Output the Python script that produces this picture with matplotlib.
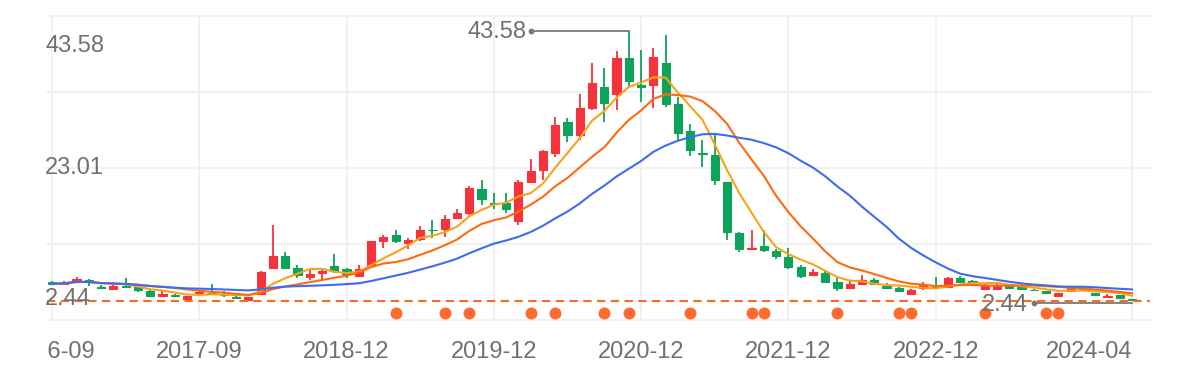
import numpy as np
import pandas as pd
import matplotlib
matplotlib.use("Agg")
import matplotlib.pyplot as plt
import matplotlib.transforms as mtransforms
from matplotlib.transforms import Bbox, TransformedBbox

plt.rcParams['font.family'] = ['Liberation Sans', 'DejaVu Sans']

# ---------------- data ----------------
skipped_months = ['2018-01', '2018-02', '2018-03']
months = [p.strftime('%Y-%m') for p in pd.period_range('2016-09', '2024-04', freq='M')
          if p.strftime('%Y-%m') not in skipped_months]

open_ = [5.30, 5.00, 5.26, 5.57, 4.55, 4.25, 4.70, 4.50, 3.95, 3.15,
         3.30, 2.70, 3.55, 3.65, 3.30, 2.95, 2.50, 3.43, 7.40, 9.23,
         7.50, 6.10, 6.60, 7.70, 7.20, 6.18, 7.70, 11.55, 12.50, 11.25,
         11.80, 13.30, 13.34, 15.02, 15.78, 19.45, 17.40, 17.31, 14.56, 20.51,
         22.34, 24.93, 29.66, 27.68, 31.80, 34.99, 33.93, 39.42, 35.30, 35.30,
         38.66, 32.41, 28.29, 25.00, 24.63, 20.51, 12.73, 10.35, 10.75, 9.99,
         9.07, 7.55, 6.33, 6.63, 5.26, 4.35, 4.96, 5.57, 4.65, 4.35,
         3.43, 4.35, 4.65, 4.50, 5.87, 5.41, 4.19, 4.19, 4.65, 4.50,
         4.10, 3.89, 3.13, 3.89, 4.40, 3.58, 2.97, 3.28, 2.67]
close = [5.00, 5.20, 5.72, 5.26, 4.45, 4.75, 4.55, 4.05, 3.15, 3.40,
         3.20, 3.10, 3.75, 3.55, 3.25, 2.85, 2.95, 6.79, 9.23, 7.50,
         6.33, 6.50, 7.00, 6.98, 6.48, 7.35, 11.51, 12.17, 11.55, 11.67,
         13.19, 13.15, 14.87, 15.78, 19.60, 17.92, 17.25, 16.39, 20.51, 22.19,
         25.24, 29.20, 27.68, 31.80, 35.60, 32.56, 39.42, 35.91, 35.10, 39.57,
         32.41, 27.98, 25.39, 24.85, 20.82, 12.89, 10.29, 10.50, 10.14, 9.23,
         7.55, 6.18, 6.79, 5.26, 4.35, 4.96, 5.57, 4.96, 4.35, 3.89,
         4.04, 4.80, 4.50, 5.87, 5.26, 5.11, 4.80, 4.80, 4.35, 4.19,
         4.00, 3.58, 3.58, 4.50, 4.30, 3.28, 3.13, 2.82, 2.50]
low = [4.90, 4.90, 5.10, 4.65, 4.20, 4.20, 4.35, 3.75, 3.10, 2.95,
       3.05, 2.65, 3.50, 3.45, 3.00, 2.75, 2.47, 3.30, 7.25, 7.35,
       5.85, 5.57, 5.57, 6.70, 5.85, 6.10, 7.60, 10.50, 11.25, 10.40,
       11.50, 11.97, 12.12, 14.87, 15.48, 17.00, 16.39, 15.78, 13.95, 20.36,
       20.82, 24.32, 26.61, 26.92, 31.49, 29.66, 31.49, 34.99, 32.71, 31.80,
       31.95, 26.92, 24.48, 22.80, 20.06, 11.67, 9.84, 10.14, 9.90, 8.75,
       7.25, 5.87, 6.18, 5.11, 3.89, 4.19, 4.80, 4.80, 4.19, 3.75,
       3.30, 4.04, 4.35, 4.35, 5.10, 5.00, 4.10, 4.10, 4.20, 4.05,
       3.90, 3.50, 3.05, 3.80, 4.20, 3.20, 2.85, 2.75, 2.44]
high = [5.50, 5.40, 6.05, 5.70, 4.80, 4.80, 5.90, 4.60, 4.00, 3.85,
        3.50, 3.15, 3.90, 4.95, 3.95, 3.10, 3.00, 6.90, 13.95, 9.90,
        7.85, 7.09, 7.35, 9.53, 7.50, 7.85, 11.60, 12.43, 13.19, 12.08,
        13.80, 14.72, 15.48, 16.39, 19.90, 20.82, 18.83, 18.83, 20.82, 24.02,
        25.40, 30.42, 30.27, 33.93, 38.66, 37.89, 40.49, 43.58, 40.64, 40.95,
        42.93, 33.47, 29.35, 26.92, 27.68, 20.60, 12.90, 13.19, 13.19, 10.40,
        10.45, 7.85, 7.25, 6.94, 6.02, 5.41, 6.33, 5.87, 5.11, 4.50,
        4.20, 5.26, 6.02, 6.02, 6.18, 5.60, 4.95, 5.10, 4.80, 4.60,
        4.30, 3.95, 3.65, 4.65, 4.70, 3.65, 3.40, 3.35, 2.75]

ma_windows = [5, 10, 20]
ma_colors = ['#F8A31B', '#FF6A10', '#3E6CF0']

tick_idx = [0, 12, 24, 36, 48, 60, 72, 88]
signal_idx = [28, 32, 34, 39, 41, 45, 47, 52, 57, 58, 64, 69, 70, 76, 81, 82]

UP = '#F5333C'
DOWN = '#0DA35A'
GRID = '#EFEFEF'
TXT = '#707070'

# ---------------- figure ----------------
W, H = 1200, 373
fig = plt.figure(figsize=(W / 100, H / 100), dpi=100)
ax_l, ax_r, ax_t, ax_b = 47, 1150, 15.7, 320
ax = fig.add_axes([ax_l / W, 1 - ax_b / H, (ax_r - ax_l) / W, (ax_b - ax_t) / H])

n = len(close)
x = np.arange(n)
o = np.array(open_); c = np.array(close); lo = np.array(low); hi = np.array(high)
vmax, vmin = hi.max(), lo.min()
imax, imin = int(hi.argmax()), int(lo.argmin())

# y range: max at pixel 31, min at pixel 300.7
px = (vmax - vmin) / (300.7 - 31)
y0 = vmin - (ax_b - 300.7) * px
y1 = vmax + (31 - ax_t) * px
ax.set_ylim(y0, y1)
ppx = (n - 1) / (1132 - 52)
ax.set_xlim(-(52 - ax_l) * ppx, (n - 1) + (ax_r - 1132) * ppx)

for s in ax.spines.values():
    s.set_visible(False)
ax.set_xticks([]); ax.set_yticks([])

# grid
for gy in np.linspace(y0, y1, 5):
    ax.axhline(gy, color=GRID, lw=1.2, zorder=0, clip_on=False)
for ti in tick_idx:
    ax.axvline(ti, color=GRID, lw=1.2, zorder=0)

# candles
cols = [UP if cc >= oo else DOWN for oo, cc in zip(o, c)]
ax.vlines(x, lo, hi, colors=cols, lw=1.3, zorder=2)
ax.bar(x, np.abs(c - o), bottom=np.minimum(o, c), width=0.66, color=cols,
       edgecolor=cols, linewidth=0.8, zorder=2)

# moving averages
cs = pd.Series(c)
for w, col in zip(ma_windows, ma_colors):
    ax.plot(x, cs.rolling(w, min_periods=1).mean(), color=col, lw=1.5, zorder=3)

# min dashed line
ax.axhline(vmin, color='#FF6A1A', lw=1.5, dashes=(4, 2.6), zorder=3)

# signal dots
btrans = mtransforms.blended_transform_factory(ax.transData, ax.transAxes)
ax.plot(signal_idx, [(ax_b - 313) / (ax_b - ax_t)] * len(signal_idx), 'o',
        color='#FF6A2F', ms=8.6, mec='none', transform=btrans, clip_on=False, zorder=4)

# max annotation
ax.plot([imax - 8, imax], [vmax, vmax], color='#7A7A7A', lw=1.3, zorder=4)
ax.plot([imax - 8], [vmax], 'o', color='#7A7A7A', ms=3.2, zorder=4)
ax.annotate(f'{vmax:.2f}', xy=(imax - 8, vmax), xytext=(-4, -6.5), textcoords='offset pixels',
            ha='right', va='baseline', fontsize=17, color=TXT, zorder=5)

# min annotation
off = mtransforms.offset_copy(ax.transData, fig=fig, x=0, y=-2, units='dots')
ax.plot([imin - 8, imin], [vmin, vmin], color='#7A7A7A', lw=1.3, zorder=4, transform=off)
ax.plot([imin - 8], [vmin], 'o', color='#7A7A7A', ms=3.2, zorder=4, transform=off)
ax.annotate(f'{vmin:.2f}', xy=(imin - 8, vmin), xytext=(-6, -10), textcoords='offset pixels',
            ha='right', va='baseline', fontsize=17, color=TXT, zorder=5)

# y labels (max / mid / min)
ltrans = mtransforms.blended_transform_factory(ax.transAxes, ax.transData)
ylabel_vals = [vmax, round((vmax + vmin) / 2, 2), vmin]
ylabel_offs = [-21, -8, -4.5]
for v, dy in zip(ylabel_vals, ylabel_offs):
    ax.annotate(f'{v:.2f}', xy=(0, v), xycoords=ltrans, xytext=(-2, dy),
                textcoords='offset pixels', ha='left', va='baseline',
                fontsize=17, color=TXT, zorder=5, annotation_clip=False)

# x labels
clipbox = TransformedBbox(Bbox([[ax_l / W, 0], [1, 1]]), fig.transFigure)
for k, ti in enumerate(tick_idx):
    ha = 'right' if k == len(tick_idx) - 1 else 'center'
    t = fig.text(ti, -(358 - ax_b) / (ax_b - ax_t), months[ti], transform=btrans,
                 ha=ha, va='baseline', fontsize=17, color=TXT)
    t.set_clip_box(clipbox)
    t.set_clip_on(True)

fig.savefig('out.png', dpi=100)
